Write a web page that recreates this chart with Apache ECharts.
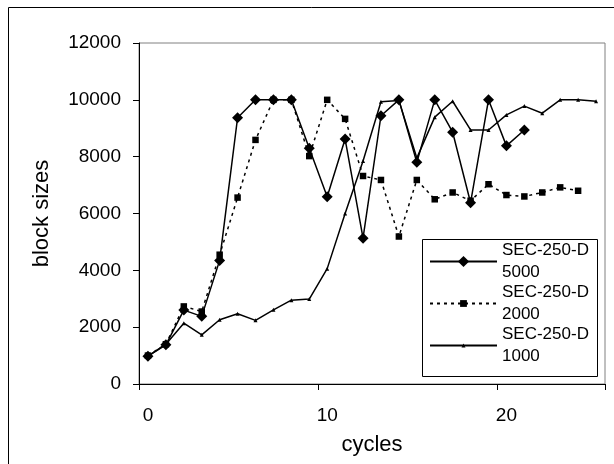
<!DOCTYPE html>
<html>
<head>
<meta charset="utf-8">
<script src="https://cdn.jsdelivr.net/npm/echarts@6/dist/echarts.min.js"></script>
<style>
html,body{margin:0;padding:0;background:#fff;}
#chart{width:614px;height:464px;}
</style>
</head>
<body>
<div id="chart"></div>
<script>
var cycles = ['0','1','2','3','4','5','6','7','8','9','10','11','12','13','14','15','16','17','18','19','20','21','22','23','24','25'];
var seriesNames = ['SEC-250-D 5000', 'SEC-250-D 2000', 'SEC-250-D 1000'];
var sec5000 = [980,1380,2600,2380,4350,9370,10000,10000,10000,8300,6590,8620,5130,9440,10000,7800,10000,8860,6380,10000,8380,8940];
var sec2000 = [1000,1400,2730,2550,4550,6560,8590,10000,10000,8020,10000,9330,7320,7180,5190,7180,6500,6740,6450,7030,6650,6600,6740,6920,6800];
var sec1000 = [980,1400,2140,1730,2260,2470,2240,2610,2950,2990,4060,6000,7850,9930,9980,7950,9390,9950,8940,8940,9470,9780,9530,10000,10000,9950];
var yMin = 0, yMax = 12000, yStep = 2000;

var FONT = 'Liberation Sans, Arial, sans-serif';
var legendTops = [242, 284, 326];
var legendHeights = [14, 8.5, 5];

function mkLegend(i) {
  return {
    orient: 'vertical', left: 429, top: legendTops[i],
    padding: 0, itemGap: 0, z: 20,
    itemWidth: 67, itemHeight: legendHeights[i],
    data: [seriesNames[i]],
    selectedMode: false,
    formatter: function (n) { return n.replace(' ', '\n'); },
    textStyle: {fontFamily: FONT, fontSize: 17, color: '#000', lineHeight: 22, padding: [0, 0, -22, 0]}
  };
}

var chart = echarts.init(document.getElementById('chart'));
chart.setOption({
  animation: false,
  backgroundColor: '#fff',
  textStyle: {fontFamily: FONT, color: '#000'},
  graphic: [{
    type: 'rect', silent: true, z: -1,
    shape: {x: 8.5, y: 7.5, width: 800, height: 800},
    style: {fill: 'none', stroke: '#000', lineWidth: 1}
  }, {
    type: 'rect', silent: true, z: 10,
    shape: {x: 422.5, y: 239.5, width: 175, height: 137},
    style: {fill: '#fff', stroke: '#000', lineWidth: 1}
  }],
  grid: {left: 139, right: 9, top: 43, bottom: 80, show: true, borderColor: '#808080', borderWidth: 1, backgroundColor: 'transparent'},
  legend: [mkLegend(0), mkLegend(1), mkLegend(2)],
  xAxis: {
    type: 'category', data: cycles, boundaryGap: true,
    name: 'cycles', nameLocation: 'middle', nameGap: 50,
    nameTextStyle: {fontFamily: FONT, fontSize: 22, color: '#000'},
    axisLine: {lineStyle: {color: '#000', width: 1}},
    axisTick: {show: true, interval: 9, length: 6, inside: false, lineStyle: {color: '#000'}},
    axisLabel: {interval: 9, margin: 22, fontFamily: FONT, fontSize: 19, color: '#000'},
    splitLine: {show: false}
  },
  yAxis: {
    type: 'value', min: yMin, max: yMax, interval: yStep,
    name: 'block sizes', nameLocation: 'middle', nameGap: 86, nameRotate: 90,
    nameTextStyle: {fontFamily: FONT, fontSize: 22, color: '#000'},
    axisLine: {show: true, lineStyle: {color: '#000', width: 1}},
    axisTick: {show: true, length: 6, inside: false, lineStyle: {color: '#000'}},
    axisLabel: {margin: 18, fontFamily: FONT, fontSize: 19, color: '#000', formatter: function (v) { return String(v); }},
    splitLine: {show: false}
  },
  series: [
    {name: seriesNames[0], type: 'line', data: sec5000, symbol: 'diamond', symbolSize: 11, showAllSymbol: true,
     lineStyle: {color: '#000', width: 1.5}, itemStyle: {color: '#000'}, z: 4},
    {name: seriesNames[1], type: 'line', data: sec2000, symbol: 'rect', symbolSize: 6.5, showAllSymbol: true,
     lineStyle: {color: '#000', width: 1.5, type: [3, 4]}, itemStyle: {color: '#000'}, z: 3},
    {name: seriesNames[2], type: 'line', data: sec1000, symbol: 'triangle', symbolSize: 4, showAllSymbol: true,
     lineStyle: {color: '#000', width: 1.5}, itemStyle: {color: '#000'}, z: 2}
  ]
});
</script>
</body>
</html>
